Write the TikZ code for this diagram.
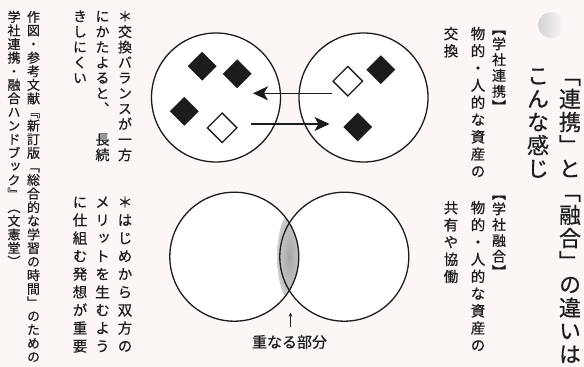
\documentclass[tikz,border=0pt]{standalone}
\usepackage{fontspec}
\newfontfamily\jp[RawFeature=+vert,FakeBold=0.6]{Noto Sans CJK JP}
\newfontfamily\jph[FakeBold=0.6]{Noto Sans CJK JP}
\usetikzlibrary{arrows.meta,shapes.geometric}
\definecolor{bg}{RGB}{252,246,245}
\definecolor{ink}{RGB}{28,28,28}
\newdimen\vtp
\def\vtloop#1{\ifx\relax#1\else\vtone#1\expandafter\vtloop\fi}
\def\vtone#1{\ifx#1【\vtbox{#1}{.5\vtp}{.13em}\else\ifx#1】\vtbox{#1}{.5\vtp}{.63em}\else\vtbox{#1}{\vtp}{.38em}\fi\fi}
\def\vtbox#1#2#3{\hbox to 1em{\vrule height #2 depth 0pt width 0pt\hss\smash{\lower\dimexpr #3-#2/2\relax\hbox{#1}}\hss}}
\newcommand\vt[2]{\vtp=#1\relax\vbox{\offinterlineskip\vtloop#2\relax}}
\tikzset{
  vtext/.style={inner sep=0pt,outer sep=0pt,anchor=north,text=ink},
  circ/.style={circle,draw=ink,line width=1.3pt,minimum size=129pt,inner sep=0pt},
  fdia/.style={diamond,fill=ink,minimum width=29pt,minimum height=29pt,inner sep=0pt},
  odia/.style={diamond,draw=ink,fill=white,line width=1.3pt,minimum width=30pt,minimum height=30pt,inner sep=0pt},
  arr/.style={draw=ink,line width=1.3pt,-{Stealth[length=15pt,width=14pt,inset=4pt]}},
}
\begin{document}
\begin{tikzpicture}[x=1pt,y=-1pt]
\path[use as bounding box,fill=bg] (0,0) rectangle (584,367);
% decorative blob
\shade[left color=gray!35,right color=bg] (551,25) circle[radius=13];
% top circles
\node[circ,fill=white] (A1) at (216,97.5) {};
\node[circ,fill=white] (A2) at (363.5,97.5) {};
% diamonds
\node[fdia] (d1) at (202.2,66.2) {};
\node[fdia] (d2) at (237.2,73.8) {};
\node[fdia] (d3) at (184.3,111.3) {};
\node[odia] (d4) at (222.2,127.8) {};
\node[odia] (d5) at (347.8,81.2) {};
\node[fdia] (d6) at (380.8,69.7) {};
\node[fdia] (d7) at (357.7,127) {};
% arrows
\coordinate (p1) at (332,93.3);
\coordinate (p2) at (253,93.3);
\coordinate (q1) at (251,124);
\coordinate (q2) at (329.5,124);
\draw[arr] (p1) -- (p2);
\draw[arr] (q1) -- (q2);
% bottom circles
\fill[white] (234.3,256.7) circle[radius=64.5];
\fill[white] (344.3,256.7) circle[radius=64.5];
\begin{scope}
\clip (234.3,256.7) circle[radius=64.5];
\fill[gray!40] (344.3,256.7) circle[radius=64.5];
\shade[inner color=gray!70,outer color=gray!40] (289.3,256.7) ellipse[x radius=12,y radius=42];
\end{scope}
\node[circ] (B1) at (234.3,256.7) {};
\node[circ] (B2) at (344.3,256.7) {};
% overlap label
\coordinate (r1) at (290.5,327);
\coordinate (r2) at (290.5,312.5);
\draw[draw=ink,line width=0.8pt,-{Stealth[length=4pt,width=3.5pt]}] (r1) -- (r2);
\node[inner sep=0pt,text=ink,font=\jph\fontsize{15}{15}\selectfont] (lab) at (289.5,342) {重なる部分};
% right texts
\node[vtext,font=\jp\fontsize{22}{22}\selectfont] (t1) at (570,64) {\vt{23.2pt}{「連携」と「融合」の違いは}};
\node[vtext,font=\jp\fontsize{22}{22}\selectfont] (t2) at (538,64) {\vt{23.2pt}{こんな感じ}};
\node[vtext,font=\jp\fontsize{14}{14}\selectfont] (h1) at (499,28) {\vt{15.8pt}{【学社連携】}};
\node[vtext,font=\jp\fontsize{14}{14}\selectfont] (h2) at (499,193) {\vt{15.8pt}{【学社融合】}};
\node[vtext,font=\jp\fontsize{14.5}{14.5}\selectfont] (c1) at (478,25) {\vt{17.2pt}{物的・人的な資産の}};
\node[vtext,font=\jp\fontsize{14.5}{14.5}\selectfont] (c2) at (451,25) {\vt{17.2pt}{交換}};
\node[vtext,font=\jp\fontsize{14.5}{14.5}\selectfont] (c3) at (478,199) {\vt{17.2pt}{物的・人的な資産の}};
\node[vtext,font=\jp\fontsize{14.5}{14.5}\selectfont] (c4) at (451,199) {\vt{17.2pt}{共有や協働}};
% left notes
\node[vtext,font=\jp\fontsize{14}{14}\selectfont] (n1) at (125,8.5) {\vt{15.4pt}{＊交換バランスが一方}};
\node[vtext,font=\jp\fontsize{14}{14}\selectfont] (n2) at (102.5,8.5) {\vt{15.4pt}{にかたよると、　長続}};
\node[vtext,font=\jp\fontsize{14}{14}\selectfont] (n3) at (80,8.5) {\vt{15.4pt}{きしにくい}};
\node[vtext,font=\jp\fontsize{14.5}{14.5}\selectfont] (m1) at (125,193) {\vt{18pt}{＊はじめから双方の}};
\node[vtext,font=\jp\fontsize{14.5}{14.5}\selectfont] (m2) at (102.5,193) {\vt{18pt}{メリットを生むよう}};
\node[vtext,font=\jp\fontsize{14.5}{14.5}\selectfont] (m3) at (80,193) {\vt{18pt}{に仕組む発想が重要}};
% source
\node[vtext,font=\jp\fontsize{13}{13}\selectfont] (s1) at (33.5,10) {\vt{13.6pt}{作図・参考文献『新訂版「総合的な学習の時間」のための}};
\node[vtext,font=\jp\fontsize{13}{13}\selectfont] (s2) at (14,10) {\vt{13.6pt}{学社連携・融合ハンドブック』（文憲堂）}};
\end{tikzpicture}
\end{document}
